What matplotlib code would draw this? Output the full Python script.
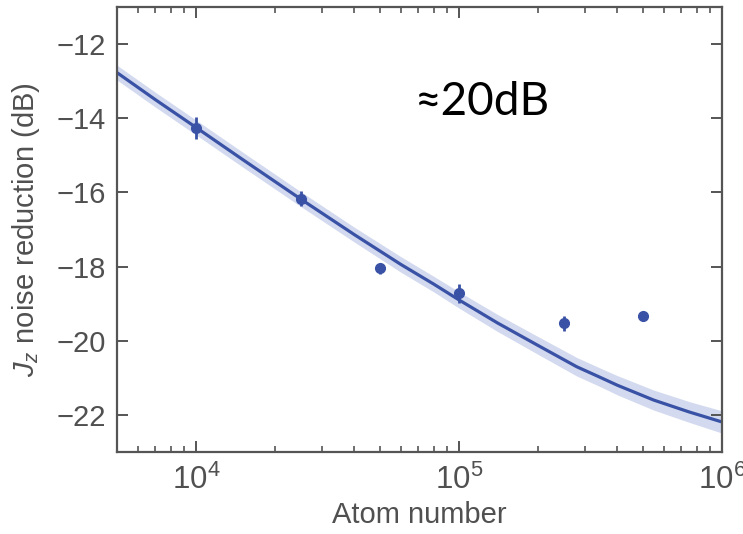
import numpy as np
import matplotlib
matplotlib.use("Agg")
import matplotlib.pyplot as plt

# Measured points
atom_number = [1e4, 2.5e4, 5e4, 1e5, 2.5e5, 5e5]
noise_reduction = [-14.27, -16.17, -18.05, -18.72, -19.53, -19.33]
noise_err = [0.30, 0.20, 0.15, 0.25, 0.20, 0.10]

# Fitted curve
fit_n = [5.0e3, 7.0e3, 1.0e4, 1.5e4, 2.5e4, 4.0e4, 6.0e4, 8.0e4, 1.0e5, 1.4e5,
         2.0e5, 2.8e5, 3.4e5, 4.0e5, 5.5e5, 7.5e5, 1.0e6]
fit_db = [-12.77, -13.50, -14.25, -15.11, -16.18, -17.14, -17.94, -18.47, -18.90, -19.52,
          -20.13, -20.70, -20.97, -21.20, -21.60, -21.92, -22.19]
fit_band = [0.20, 0.20, 0.20, 0.20, 0.20, 0.20, 0.21, 0.21, 0.22, 0.23,
            0.24, 0.25, 0.25, 0.26, 0.27, 0.28, 0.30]

y_ticks = [-22, -20, -18, -16, -14, -12]
x_ticks = [1e4, 1e5, 1e6]
x_ticklabels = [r'$10^4$', r'$10^5$', r'$10^6$']

plt.rcParams['font.family'] = ['Liberation Sans', 'DejaVu Sans']
plt.rcParams['mathtext.fontset'] = 'custom'
plt.rcParams['mathtext.rm'] = 'Liberation Sans'
plt.rcParams['mathtext.it'] = 'Liberation Sans:italic'

blue = '#3a52a6'
band_col = '#d3daef'
gray = '#555555'
textgray = '#505050'

fig = plt.figure(figsize=(7.43, 5.34), dpi=100)
ax = fig.add_axes([117/743, (534-452)/534, (722-117)/743, (452-7)/534])

fn = np.array(fit_n)
fd = np.array(fit_db)
fb = np.array(fit_band)
ax.fill_between(fn, fd - fb, fd + fb, color=band_col, lw=0, zorder=1)
ax.plot(fn, fd, color=blue, lw=2.3, zorder=2, solid_capstyle='butt')
ax.errorbar(atom_number, noise_reduction, yerr=noise_err, fmt='o', color=blue,
            ms=7, elinewidth=2.0, capsize=0, zorder=3)

ax.set_xscale('log')
ax.set_xlim(5e3, 1e6)
ax.set_ylim(-23, -11)
ax.set_yticks(y_ticks)
ax.set_yticklabels([f'\u2212{abs(v)}' for v in y_ticks])
ax.set_xticks(x_ticks)
ax.set_xticklabels(x_ticklabels)

for s in ax.spines.values():
    s.set_color(gray)
    s.set_linewidth(1.6)
ax.tick_params(which='both', direction='in', top=True, right=True, color=gray,
               labelcolor=textgray)
ax.tick_params(which='major', length=8, width=1.4)
ax.tick_params(which='minor', length=4, width=1.2)
ax.tick_params(axis='y', which='major', labelsize=21, pad=8)
ax.tick_params(axis='x', which='major', labelsize=22.5, pad=9)
ax.tick_params(axis='y', which='minor', left=False, right=False)

ax.set_xlabel('Atom number', fontsize=21, color=textgray, labelpad=4)
ax.set_ylabel(r'$J_z$ noise reduction (dB)', fontsize=21, color=textgray, labelpad=10)

ax.text((415-117)/605, (452-115)/445, '\u224820dB', transform=ax.transAxes, fontsize=33,
        color='black', family=['Lato', 'DejaVu Sans'], ha='left', va='baseline')

fig.savefig('out.png', dpi=100)
